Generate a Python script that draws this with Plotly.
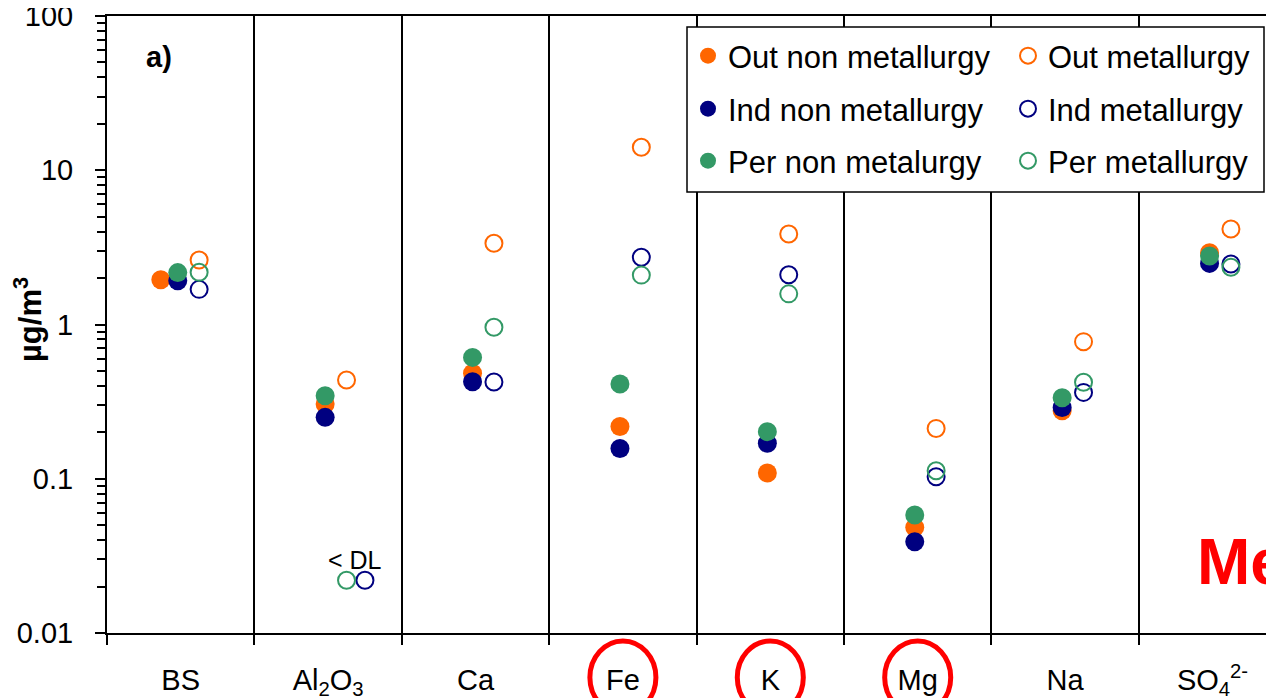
import plotly.graph_objects as go
import numpy as np

categories = ["BS", "Al<sub>2</sub>O<sub>3</sub>", "Ca", "Fe", "K", "Mg", "Na", "SO<sub>4</sub><sup>2-</sup>"]

out_non = [1.95, 0.305, 0.483, 0.218, 0.109, 0.0484, 0.276, 2.92]
ind_non = [1.92, 0.25, 0.426, 0.157, 0.170, 0.0391, 0.290, 2.49]
per_non = [2.17, 0.345, 0.612, 0.411, 0.202, 0.0582, 0.335, 2.78]
out_met = [2.62, 0.437, 3.36, 14.1, 3.86, 0.212, 0.774, 4.16]
ind_met = [1.69, 0.022, 0.424, 2.73, 2.10, 0.103, 0.363, 2.47]
per_met = [2.18, 0.022, 0.96, 2.09, 1.58, 0.1127, 0.422, 2.35]

y_tickvals = [0.01, 0.1, 1, 10, 100]
y_ticktext = ["0.01", "0.1", "1", "10", "100"]

ORANGE = "#FF6600"
NAVY = "#000080"
GREEN = "#339966"
FONT = "Liberation Sans, Arial, sans-serif"

idx = np.arange(len(categories), dtype=float)
filled_off = np.full(len(categories), -0.02)
open_off = np.full(len(categories), 0.125)
out_non_off = filled_off.copy(); out_non_off[0] = -0.135
ind_met_off = open_off.copy(); ind_met_off[1] = 0.25

fig = go.Figure()

def add(name, vals, offs, color, filled, legend):
    if filled:
        marker = dict(symbol="circle", size=19, color=color, line=dict(width=0))
    else:
        marker = dict(symbol="circle-open", size=17, color=color, line=dict(width=2, color=color))
    fig.add_trace(go.Scatter(x=idx + offs, y=vals, mode="markers", name=name,
                             marker=marker, legend=legend, cliponaxis=False))

add("Out non metallurgy", out_non, out_non_off, ORANGE, True, "legend")
add("Ind non metallurgy", ind_non, filled_off, NAVY, True, "legend2")
add("Per non metalurgy", per_non, filled_off, GREEN, True, "legend3")
add("Out metallurgy", out_met, open_off, ORANGE, False, "legend")
add("Ind metallurgy", ind_met, ind_met_off, NAVY, False, "legend2")
add("Per metallurgy", per_met, open_off, GREEN, False, "legend3")

# page shows the figure offset by the body margin
OFF = 8
W, H = 1274, 698
ML = 107 - OFF
MT = 16 - OFF
MB = H - (633 - OFF)
MR = 0
pw = W - ML - MR
ph = H - MT - MB
cat_px = 147.4
xmax = -0.5 + pw / cat_px

def px_x(p):
    return (p - OFF - ML) / pw

def px_y(p):
    return (H - MB - (p - OFF)) / ph

boundaries = [i - 0.5 for i in range(len(categories) + 1)]
minor_y = [m * 10.0 ** k for k in range(-2, 2) for m in range(2, 10)]

fig.update_layout(
    width=W, height=H,
    margin=dict(l=ML, r=MR, t=MT, b=MB, pad=0, autoexpand=False),
    paper_bgcolor="white", plot_bgcolor="white",
    font=dict(family=FONT, color="black", size=28),
    xaxis=dict(
        range=[-0.5, xmax], showline=True, linecolor="black", linewidth=2, mirror=True,
        tickmode="array", tickvals=list(idx), ticktext=categories, ticks="",
        ticklabelstandoff=20, tickfont=dict(size=29), showgrid=False, zeroline=False,
        automargin=False, ticklabeloverflow="allow",
        minor=dict(tickmode="array", tickvals=boundaries, ticks="outside", ticklen=10,
                   tickwidth=2, tickcolor="black", showgrid=True, gridcolor="black", gridwidth=2),
    ),
    yaxis=dict(
        type="log", range=[-2, 2], showline=True, linecolor="black", linewidth=2,
        tickmode="array", tickvals=y_tickvals, ticktext=y_ticktext,
        ticks="outside", ticklen=10, tickwidth=2, tickcolor="black", ticklabelstandoff=16,
        tickfont=dict(size=29), showgrid=False, zeroline=False, automargin=False,
        ticklabeloverflow="allow",
        minor=dict(tickmode="array", tickvals=minor_y, ticks="outside", ticklen=8, tickwidth=2,
                   tickcolor="black", showgrid=False),
        title=dict(text=""),
    ),
)

leg_common = dict(orientation="h", xanchor="left", yanchor="middle", bgcolor="rgba(0,0,0,0)",
                  borderwidth=0, font=dict(size=31, family=FONT), entrywidth=275,
                  entrywidthmode="pixels", itemclick=False, itemdoubleclick=False)
fig.update_layout(
    legend=dict(x=px_x(688), y=px_y(56), **leg_common),
    legend2=dict(x=px_x(688), y=px_y(109), **leg_common),
    legend3=dict(x=px_x(688), y=px_y(161), **leg_common),
)

shapes = [dict(type="rect", xref="paper", yref="paper", x0=px_x(687), x1=px_x(1264),
               y0=px_y(192), y1=px_y(27), line=dict(color="black", width=1.5),
               fillcolor="white", layer="above")]
for c in [3, 4, 5]:
    shapes.append(dict(type="circle", xref="x", yref="paper", x0=c - 0.224, x1=c + 0.224,
                       y0=px_y(714), y1=px_y(641), line=dict(color="red", width=5)))
fig.update_layout(shapes=shapes)

fig.add_annotation(text="<b>a)</b>", xref="paper", yref="paper", x=px_x(144), y=px_y(57),
                   xanchor="left", yanchor="middle", showarrow=False, font=dict(size=29))
fig.add_annotation(text="<b>µg/m<sup>3</sup></b>", xref="paper", yref="paper", x=px_x(28), y=px_y(320),
                   xanchor="center", yanchor="middle", textangle=-90, showarrow=False, font=dict(size=31))
fig.add_annotation(text="< DL", xref="x", yref="y", x=1 + 0.183, y=np.log10(0.0297),
                   xanchor="center", yanchor="middle", showarrow=False, font=dict(size=25))
fig.add_annotation(text="<b>Metallurgy</b>", xref="paper", yref="paper", x=px_x(1195), y=px_y(562),
                   xanchor="left", yanchor="middle", showarrow=False,
                   font=dict(size=64, color="red"))

fig.write_html("out.html")
